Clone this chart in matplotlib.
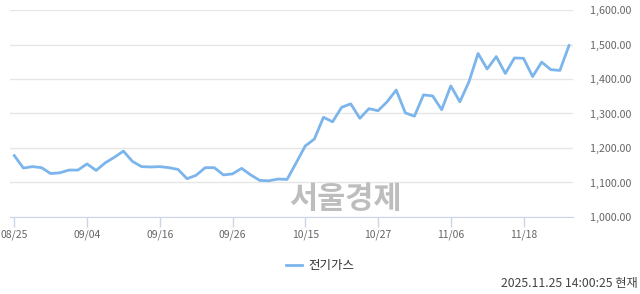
import matplotlib.pyplot as plt

plt.rcParams['font.family'] = ['Noto Sans CJK KR', 'DejaVu Sans']

dates = ['08/25', '08/26', '08/27', '08/28', '08/29',
         '09/01', '09/02', '09/03', '09/04', '09/05', '09/08', '09/09', '09/10',
         '09/11', '09/12', '09/15', '09/16', '09/17', '09/18', '09/19', '09/22',
         '09/23', '09/24', '09/25', '09/26', '09/29', '09/30',
         '10/01', '10/02', '10/10', '10/13', '10/14', '10/15', '10/16', '10/17',
         '10/20', '10/21', '10/22', '10/23', '10/24', '10/27', '10/28', '10/29',
         '10/30', '10/31',
         '11/03', '11/04', '11/05', '11/06', '11/07', '11/10', '11/11', '11/12',
         '11/13', '11/14', '11/17', '11/18', '11/19', '11/20', '11/21', '11/24',
         '11/25']
values = [1178, 1142, 1146, 1143, 1126, 1128, 1136, 1136, 1154, 1135,
          1157, 1173, 1191, 1161, 1146, 1145, 1146, 1143, 1138, 1111,
          1121, 1143, 1143, 1122, 1125, 1141, 1122, 1106, 1105, 1110,
          1109, 1157, 1206, 1226, 1289, 1276, 1318, 1328, 1286, 1314,
          1308, 1334, 1368, 1302, 1292, 1354, 1351, 1311, 1380, 1334,
          1392, 1474, 1429, 1465, 1416, 1461, 1460, 1407, 1449, 1427,
          1425, 1497]
tick_labels = ['08/25', '09/04', '09/16', '09/26', '10/15', '10/27', '11/06', '11/18']
yticks = [1000, 1100, 1200, 1300, 1400, 1500, 1600]

line_color = '#7cb5ec'

fig = plt.figure(figsize=(6.4, 2.94), dpi=100)
ax = fig.add_axes([10 / 640, 1 - 217 / 294, 563 / 640, 207 / 294])

x = list(range(len(values)))
ax.plot(x, values, color=line_color, linewidth=2, label='전기가스')

ax.set_xlim(-0.47, len(values) - 1 + 0.44)
ax.set_ylim(1000, 1600)

ax.set_yticks(yticks)
ax.set_yticklabels([f'{v:,.2f}' for v in yticks])
ax.yaxis.tick_right()
ax.tick_params(axis='y', length=0, pad=12, labelsize=7.7, labelcolor='#666666')
ax.grid(axis='y', color='#e6e6e6', linewidth=1)
ax.set_axisbelow(True)

tick_pos = [dates.index(t) for t in tick_labels]
ax.set_xticks(tick_pos)
ax.set_xticklabels(tick_labels)
ax.tick_params(axis='x', length=7, width=1, color='#ccd6eb', pad=2,
               labelsize=7.5, labelcolor='#666666')

for side in ['top', 'left', 'right']:
    ax.spines[side].set_visible(False)
ax.spines['bottom'].set_color('#ccd6eb')

fig.text(345 / 640, 1 - 199 / 294, '서울경제', fontsize=22, fontweight='heavy',
         color='#bdbdbd', ha='center', va='center')

ax.legend(loc='center', bbox_to_anchor=(320 / 640, 1 - 266 / 294),
          bbox_transform=fig.transFigure, frameon=False, fontsize=9,
          handlelength=1.3, handletextpad=0.45, labelcolor='#333333')

fig.text(638 / 640, 1 - 283 / 294, '2025.11.25 14:00:25 현재', fontsize=8.8,
         color='#444444', ha='right', va='center')

plt.savefig('out.png', dpi=100)
